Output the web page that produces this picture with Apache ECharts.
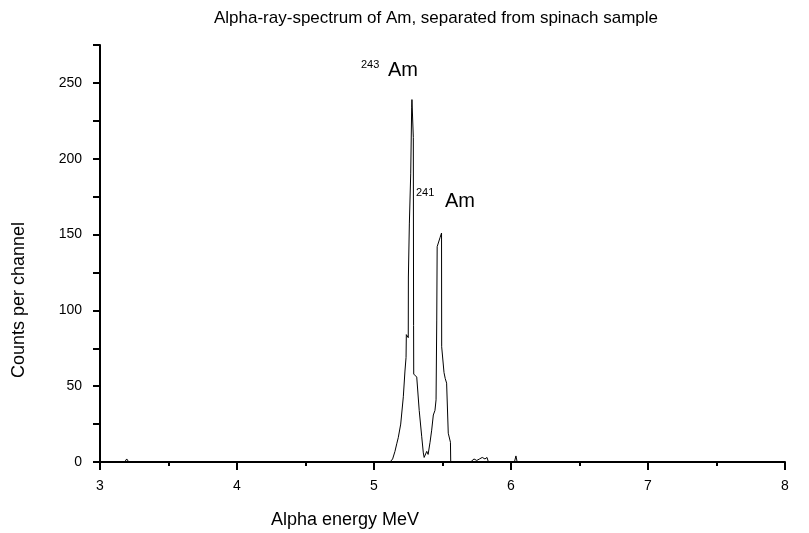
<!DOCTYPE html>
<html><head><meta charset="utf-8">
<script src="https://cdn.jsdelivr.net/npm/echarts@6/dist/echarts.min.js"></script>
<style>html,body{margin:0;padding:0;background:#fff}#c{width:809px;height:533px}</style>
</head><body><div id="c"></div>
<script>
// Alpha energy (MeV) of each spectrum point
const energy = [3.0,3.18,3.195,3.21,3.78,3.79,3.80,4.855,4.866,4.875,
  5.117,5.136,5.153,5.166,5.177,5.195,5.214,5.226,5.234,5.236,5.250,5.251,5.258,5.268,5.275,5.277,
  5.287,5.289,5.290,5.312,5.330,5.348,5.360,5.366,5.372,5.385,5.395,5.409,5.421,5.433,5.445,5.453,
  5.458,5.461,5.482,5.493,5.494,5.511,5.520,5.530,5.542,5.558,5.560,
  5.705,5.715,5.73,5.75,5.77,5.79,5.81,5.825,5.835,6.025,6.036,6.045,8.0];
// Counts per channel at each point
const counts = [0,0,2,0,0,1,0,0,1,0,
  0,2,7,12,16,25,43,60,69,84,82,122,157,190,234,239,
  214,90,58,56,34,17,6,3,3,7,5,13,21,31,34,41,
  93,142,148,151,76,59,55,52,19,13,0,
  0,1,2,1,2,3,2,3,0,0,4,0,0];
const xTickLabels = [3,4,5,6,7,8];
const yTickLabels = [0,50,100,150,200,250];
const titleText = 'Alpha-ray-spectrum of Am, separated from spinach sample';
const xName = 'Alpha energy MeV';
const yName = 'Counts per channel';

const FF = '"Liberation Sans", Arial, sans-serif';
const chart = echarts.init(document.getElementById('c'), null, {renderer:'canvas'});
chart.setOption({
  animation:false,
  backgroundColor:'#fff',
  grid:{left:100, right:24, top:45, bottom:71},
  xAxis:{type:'value', min:3, max:8, interval:1,
    axisLine:{lineStyle:{color:'#000', width:2}},
    axisTick:{inside:false, length:8, lineStyle:{color:'#000', width:2}},
    minorTick:{show:true, splitNumber:2, length:4, lineStyle:{color:'#000', width:2}},
    splitLine:{show:false},
    axisLabel:{margin:17, color:'#000', fontSize:14, fontFamily:FF,
      formatter:function(v){return xTickLabels.indexOf(v)>=0 ? String(v) : '';}}
  },
  yAxis:{type:'value', min:0, max:275, interval:25,
    axisLine:{show:true, lineStyle:{color:'#000', width:2}},
    axisTick:{show:true, length:7, lineStyle:{color:'#000', width:2}},
    splitLine:{show:false},
    axisLabel:{margin:18, color:'#000', fontSize:14, fontFamily:FF,
      formatter:function(v){return yTickLabels.indexOf(v)>=0 ? String(v) : '';}}
  },
  series:[{type:'line', data:energy.map(function(e,i){return [e,counts[i]];}),
    showSymbol:false, symbol:'none', lineStyle:{color:'#000', width:1}, z:1}],
  graphic:[
    {type:'text', x:436, y:18, style:{text:titleText, fontSize:17, fontFamily:FF, fill:'#000', align:'center', verticalAlign:'middle', textAlign:'center', textVerticalAlign:'middle'}},
    {type:'text', x:345, y:520, style:{text:xName, fontSize:18, fontFamily:FF, fill:'#000', align:'center', verticalAlign:'middle', textAlign:'center', textVerticalAlign:'middle'}},
    {type:'text', x:19, y:300, rotation:Math.PI/2, style:{text:yName, fontSize:18, fontFamily:FF, fill:'#000', align:'center', verticalAlign:'middle', textAlign:'center', textVerticalAlign:'middle'}},
    {type:'text', x:361, y:59, style:{text:'243', fontSize:11, fontFamily:FF, fill:'#000', align:'left', verticalAlign:'top', textAlign:'left', textVerticalAlign:'top'}},
    {type:'text', x:388, y:60, style:{text:'Am', fontSize:20, fontFamily:FF, fill:'#000', align:'left', verticalAlign:'top', textAlign:'left', textVerticalAlign:'top'}},
    {type:'text', x:416, y:187, style:{text:'241', fontSize:11, fontFamily:FF, fill:'#000', align:'left', verticalAlign:'top', textAlign:'left', textVerticalAlign:'top'}},
    {type:'text', x:445, y:191, style:{text:'Am', fontSize:20, fontFamily:FF, fill:'#000', align:'left', verticalAlign:'top', textAlign:'left', textVerticalAlign:'top'}}
  ]
});
</script></body></html>
